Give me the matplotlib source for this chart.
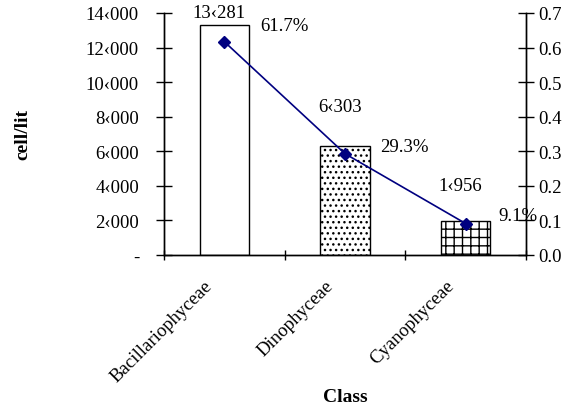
import matplotlib
matplotlib.use("Agg")
import matplotlib.pyplot as plt
import numpy as np

plt.rcParams['font.family'] = ['Liberation Serif', 'DejaVu Sans']
plt.rcParams['hatch.linewidth'] = 1.0

classes = ["Bacillariophyceae", "Dinophyceae", "Cyanophyceae"]
cells = [13281, 6303, 1956]
shares = [0.617, 0.293, 0.091]
left_ticks = [0, 2000, 4000, 6000, 8000, 10000, 12000, 14000]
right_ticks = [0.0, 0.1, 0.2, 0.3, 0.4, 0.5, 0.6, 0.7]
hatches = ["", "...", "++"]

SEP = "\u2039"
FS = 13.5


def fmt_cells(v):
    if v == 0:
        return "-"
    return f"{v:,}".replace(",", SEP)


fig = plt.figure(figsize=(5.7, 4.1), dpi=100)
ax = fig.add_axes([164 / 570, 1 - 256 / 410, (526 - 164) / 570, (256 - 14) / 410])
ax2 = ax.twinx()

x = np.arange(len(classes))
bars = ax.bar(x, cells, width=0.41, color="white", edgecolor="black",
              linewidth=1.0, zorder=2)
for b, h in zip(bars, hatches):
    b.set_hatch(h)

ax.set_xlim(-0.5, len(classes) - 0.5)
ax.set_ylim(0, 14000)
ax.set_yticks(left_ticks)
ax.set_yticklabels([fmt_cells(v) for v in left_ticks], fontsize=FS)
ax.set_xticks(np.arange(len(classes) + 1) - 0.5)
ax.set_xticklabels([])
ax.tick_params(axis="x", direction="inout", length=7, width=1)
ax.tick_params(axis="y", direction="inout", length=12, width=1, pad=12)

for i, lab in enumerate(classes):
    ax.text(i - 0.12, -0.115, lab, transform=ax.get_xaxis_transform(),
            rotation=45, rotation_mode="anchor", ha="right", va="center",
            fontsize=FS)

ax.spines["top"].set_visible(False)
ax2.spines["top"].set_visible(False)
for s in ["left", "right", "bottom"]:
    ax.spines[s].set_linewidth(1.0)
    ax2.spines[s].set_linewidth(1.0)

ax.set_ylabel("cell/lit", fontsize=14, fontweight="bold", va="center")
ax.yaxis.set_label_coords(-0.39, 0.5)
ax.set_xlabel("Class", fontsize=14, fontweight="bold", va="center")
ax.xaxis.set_label_coords(0.5, -0.583)

ax2.plot(x, shares, color="#000080", marker="D", markersize=6, linewidth=1.2,
         zorder=3)
ax2.set_ylim(0, 0.7)
ax2.set_yticks(right_ticks)
ax2.set_yticklabels([f"{v:.1f}" for v in right_ticks], fontsize=FS)
ax2.tick_params(axis="y", direction="inout", length=12, width=1, pad=3)

# value labels above the bars
cell_offsets = [(-3.6, 9.6), (-3.6, 28.8), (-3.6, 26)]
for i, (v, off) in enumerate(zip(cells, cell_offsets)):
    ax.annotate(fmt_cells(v), (i, v), xytext=off, textcoords="offset points",
                ha="center", va="center", fontsize=FS)

# percentage labels beside the line points
pct_offsets = [(43, 11.3), (42.5, 5.5), (37.4, 6)]
for i, (v, off) in enumerate(zip(shares, pct_offsets)):
    ax2.annotate(f"{v * 100:.1f}%", (i, v), xytext=off,
                 textcoords="offset points", ha="center", va="center",
                 fontsize=FS)

fig.savefig("out.png", dpi=100)
